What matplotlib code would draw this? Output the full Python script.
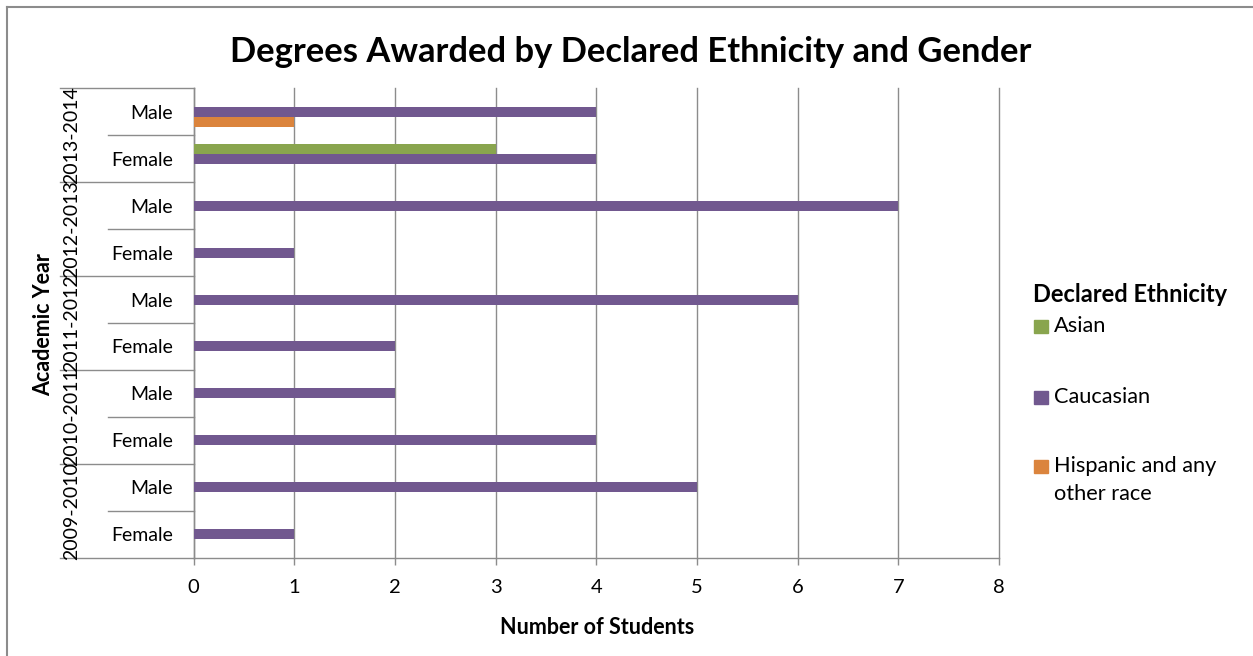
import matplotlib
matplotlib.use("Agg")
import matplotlib.pyplot as plt
from matplotlib.patches import Rectangle
from matplotlib.lines import Line2D
import numpy as np

plt.rcParams['font.family'] = ['Lato', 'DejaVu Sans']

# Data (bottom to top)
years = ["2009-2010", "2010-2011", "2011-2012", "2012-2013", "2013-2014"]
genders = ["Female", "Male"]
categories = [f"{y} {g}" for y in years for g in genders]
series_names = ["Asian", "Caucasian", "Hispanic and any\nother race"]
asian = [0, 0, 0, 0, 0, 0, 0, 0, 3, 0]
caucasian = [1, 5, 4, 2, 2, 6, 1, 7, 4, 4]
hispanic = [0, 0, 0, 0, 0, 0, 0, 0, 0, 1]
colors = ["#89A54E", "#71588F", "#DB843D"]
xticks = [0, 1, 2, 3, 4, 5, 6, 7, 8]

W, H = 1253, 656
fig = plt.figure(figsize=(W / 100, H / 100), dpi=100)

def fx(px):
    return px / W

def fy(py):
    return 1 - py / H

left, right, top, bottom = 193.5, 999, 88.3, 557.7
ax = fig.add_axes([fx(left), fy(bottom), fx(right) - fx(left), fy(top) - fy(bottom)])

gray = "#8c8c8c"
n = len(categories)
ypos = np.arange(n)
bh = 0.213
offsets = [bh, 0, -bh]
for vals, off, c in zip([asian, caucasian, hispanic], offsets, colors):
    ax.barh(ypos + off, vals, height=bh, color=c, zorder=3)

ax.set_xlim(0, 8)
ax.set_ylim(-0.5, n - 0.5)
ax.set_xticks(xticks)
ax.set_xticklabels([str(t) for t in xticks], fontsize=14.5)
ax.grid(axis='x', color=gray, linewidth=1.0, zorder=0)
ax.set_axisbelow(True)
for gl in ax.get_xgridlines():
    gl.set_clip_on(False)

ax.set_yticks(ypos)
ax.set_yticklabels([g for y in years for g in genders], fontsize=14)
ax.tick_params(axis='y', length=0, pad=14.5)
ax.tick_params(axis='x', length=5, width=1, color=gray, pad=10, direction='out')

for s in ['top', 'right']:
    ax.spines[s].set_visible(False)
for s in ['left', 'bottom']:
    ax.spines[s].set_color(gray)
    ax.spines[s].set_linewidth(1.0)

axw = right - left
trans = ax.get_yaxis_transform()
xl_year = (60 - left) / axw
xl_gender = (108 - left) / axw
for k in range(n + 1):
    x0 = xl_year if k % 2 == 0 else xl_gender
    ax.add_line(Line2D([x0, 0], [k - 0.5, k - 0.5], transform=trans,
                       color=gray, linewidth=1.0, clip_on=False))

xyear = (72 - left) / axw
for i, yr in enumerate(years):
    ax.text(xyear, 2 * i + 0.5, yr, transform=trans, rotation=90,
            ha='center', va='center', fontsize=14, clip_on=False)

# Titles
fig.text(fx(631), fy(52), "Degrees Awarded by Declared Ethnicity and Gender",
         ha='center', va='center', fontsize=24.8, fontweight='bold')
fig.text(fx(597), fy(627), "Number of Students", ha='center', va='center',
         fontsize=15.5, fontweight='bold')
fig.text(fx(44), fy(325), "Academic Year", ha='center', va='center',
         fontsize=15.5, fontweight='bold', rotation=90)

# Legend
fig.text(fx(1033), fy(295), "Declared Ethnicity", ha='left', va='center',
         fontsize=17, fontweight='bold')
leg_y = [326, 397, 466]
for name, c, yy in zip(series_names, colors, leg_y):
    fig.add_artist(Rectangle((fx(1034), fy(yy + 6.5)), 14 / W, 13 / H,
                             transform=fig.transFigure, color=c))
    first, *rest = name.split("\n")
    fig.text(fx(1054), fy(yy), first, ha='left', va='center', fontsize=15.7)
    for j, line in enumerate(rest):
        fig.text(fx(1054), fy(yy + 28 * (j + 1)), line, ha='left', va='center', fontsize=15.7)

# Chart border (top and left visible)
fig.add_artist(Line2D([fx(6.5), 1], [fy(6.5), fy(6.5)], transform=fig.transFigure,
                      color=gray, linewidth=1.5))
fig.add_artist(Line2D([fx(6.5), fx(6.5)], [fy(6.5), 0], transform=fig.transFigure,
                      color=gray, linewidth=1.5))

fig.savefig("out.png", dpi=100)
